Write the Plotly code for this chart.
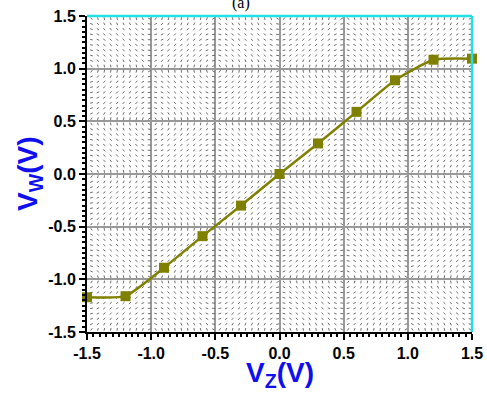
import numpy as np
import plotly.graph_objects as go

# Data
vz = [-1.5, -1.2, -0.9, -0.6, -0.3, 0.0, 0.3, 0.6, 0.9, 1.2, 1.5]
vw = [-1.17, -1.16, -0.89, -0.59, -0.30, 0.0, 0.29, 0.59, 0.89, 1.085, 1.095]
tick_vals = [-1.5, -1.0, -0.5, 0.0, 0.5, 1.0, 1.5]
tick_text = ["-1.5", "-1.0", "-0.5", "0.0", "0.5", "1.0", "1.5"]

fig = go.Figure()

# decorative dotted texture (background pattern)
gx = np.arange(-1.465, 1.5, 0.05)
gy = np.arange(-1.475, 1.5, 0.05)
GX, GY = np.meshgrid(gx, gy)
ang = (np.degrees(np.arctan2(np.sin(np.pi * GY / 0.5), np.sin(np.pi * GX / 0.5))) % 180)
fig.add_trace(go.Scatter(
    x=GX.ravel(), y=GY.ravel(), mode="markers", hoverinfo="skip",
    marker=dict(symbol="line-ns", size=2, angle=ang.ravel(),
                line=dict(color="rgba(60,60,60,0.75)", width=1)),
    showlegend=False))

fig.add_trace(go.Scatter(
    x=vz, y=vw, mode="lines+markers",
    line=dict(color="#808000", width=2.5, shape="spline", smoothing=0.5),
    marker=dict(symbol="square", size=10, color="#808000"),
    cliponaxis=False, showlegend=False))

axis_common = dict(
    range=[-1.5, 1.5], tickvals=tick_vals, ticktext=["<b>%s</b>" % t for t in tick_text],
    ticks="outside", ticklen=6, tickwidth=2, tickcolor="black",
    showline=True, linecolor="black", linewidth=2, mirror=False,
    showgrid=True, gridcolor="#999999", gridwidth=1.5, zeroline=False,
    automargin=False,
    tickfont=dict(family="Liberation Sans", size=16, color="black"),
    minor=dict(dtick=0.05, ticks="outside", ticklen=3, tickwidth=1.5, tickcolor="black", showgrid=False),
)

title_font = dict(family="Liberation Sans", size=28, color="#1010ee")

fig.update_layout(
    width=487, height=394,
    margin=dict(l=87, r=15, t=16, b=62),
    paper_bgcolor="white", plot_bgcolor="white",
    xaxis=axis_common,
    yaxis=axis_common,
    shapes=[
        dict(type="line", xref="paper", yref="paper", x0=0, x1=1, y0=1, y1=1,
             line=dict(color="#22e0e8", width=2.5)),
        dict(type="line", xref="paper", yref="paper", x0=1, x1=1, y0=0, y1=1,
             line=dict(color="#22e0e8", width=2.5)),
    ],
    annotations=[
        dict(text="(a)", xref="paper", yref="paper", x=0.4, y=1.0, yshift=2,
             xanchor="center", yanchor="bottom", showarrow=False,
             font=dict(family="Liberation Serif", size=16, color="black")),
        dict(text="<b>V<sub>Z</sub>(V)</b>", xref="paper", yref="paper", x=0.5, y=0,
             yshift=-24, xanchor="center", yanchor="top", showarrow=False,
             borderpad=0, font=title_font),
        dict(text="<b>V<sub>W</sub>(V)</b>", xref="paper", yref="paper", x=0, y=0.5,
             xshift=-58, xanchor="center", yanchor="middle", textangle=-90,
             showarrow=False, borderpad=0, font=title_font),
    ],
)

fig.write_html("out.html")
